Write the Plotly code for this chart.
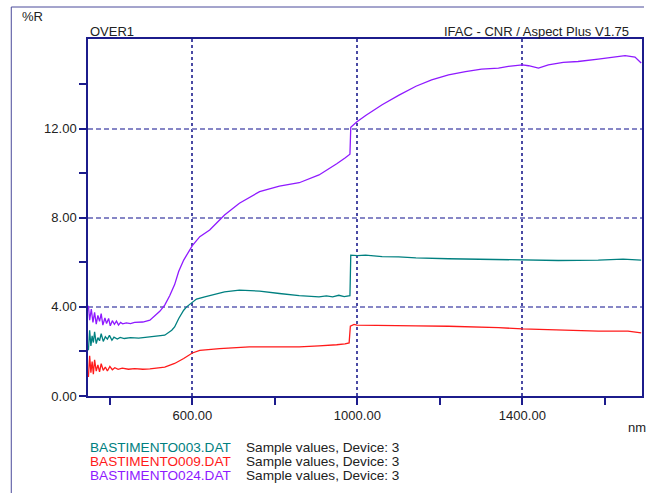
import plotly.graph_objects as go

# Reflectance spectra (%R vs wavelength in nm)
wl_003 = [348, 351, 354, 357, 360, 363, 367, 371, 375, 379, 384, 389, 394, 399, 405, 410,
          418, 425, 435, 450, 470, 497, 520, 533, 550, 557, 567, 579, 586, 600, 610, 630,
          678, 714, 763, 811, 859, 907, 925, 940, 955, 968, 982, 984, 1000,
          1020, 1060, 1100, 1142, 1221, 1318, 1342, 1400, 1487, 1584, 1644, 1688]
r_003 = [2.05, 2.95, 2.25, 2.70, 2.40, 2.88, 2.35, 2.62, 2.48, 2.80, 2.45, 2.66, 2.55, 2.72, 2.50, 2.64,
         2.56, 2.63, 2.58, 2.62, 2.60, 2.65, 2.68, 2.73, 2.95, 3.10, 3.48, 3.85, 4.00, 4.22, 4.35, 4.45,
         4.67, 4.75, 4.71, 4.60, 4.50, 4.45, 4.49, 4.45, 4.52, 4.46, 4.50, 6.32, 6.30,
         6.32, 6.25, 6.24, 6.20, 6.16, 6.13, 6.11, 6.08, 6.08, 6.10, 6.14, 6.10]

wl_009 = [348, 351, 354, 357, 360, 363, 367, 371, 375, 379, 384, 389, 394, 400, 406, 412,
          420, 430, 445, 460, 480, 497, 533, 557, 579, 600, 618, 666, 738, 811, 859, 907,
          930, 950, 970, 980, 983, 992, 999, 1060, 1142, 1221, 1318, 1342,
          1400, 1487, 1584, 1656, 1688]
r_009 = [0.85, 1.80, 1.05, 1.55, 0.98, 1.62, 1.12, 1.40, 1.08, 1.45, 1.15, 1.30, 1.12, 1.33, 1.18, 1.27,
         1.20, 1.25, 1.20, 1.23, 1.20, 1.22, 1.30, 1.46, 1.68, 1.93, 2.05, 2.13, 2.20, 2.20, 2.20, 2.25,
         2.27, 2.30, 2.34, 2.38, 3.13, 3.21, 3.18, 3.18, 3.15, 3.13, 3.10, 3.07,
         3.01, 2.95, 2.91, 2.91, 2.83]

wl_024 = [348, 351, 355, 359, 363, 367, 371, 375, 379, 383, 388, 392, 397, 401, 406, 411,
          416, 421, 426, 431, 440, 450, 460, 470, 480, 497, 521, 533, 545, 557, 567, 579,
          593, 600, 618, 642, 666, 678, 714, 763, 811, 859, 907, 930, 950, 970, 982, 984,
          999, 1021, 1060, 1101, 1142, 1180, 1221, 1262, 1301, 1342, 1366,
          1400, 1415, 1439, 1463, 1499, 1535, 1584, 1632, 1649, 1673, 1688]
r_024 = [4.05, 3.40, 3.90, 3.30, 3.75, 3.22, 3.62, 3.35, 3.70, 3.18, 3.50, 3.25, 3.48, 3.15, 3.38, 3.22,
         3.36, 3.18, 3.30, 3.24, 3.28, 3.25, 3.30, 3.30, 3.32, 3.40, 3.80, 4.08, 4.50, 5.00, 5.60, 6.10,
         6.50, 6.75, 7.15, 7.45, 7.90, 8.12, 8.65, 9.17, 9.42, 9.57, 9.92, 10.18, 10.42, 10.68, 10.85, 12.06,
         12.31, 12.60, 13.07, 13.50, 13.90, 14.19, 14.41, 14.56, 14.67, 14.71, 14.79,
         14.86, 14.82, 14.71, 14.86, 14.97, 15.01, 15.12, 15.21, 15.27, 15.21, 14.94]

series = [
    ("BASTIMENTO003.DAT", wl_003, r_003, "#008080"),
    ("BASTIMENTO009.DAT", wl_009, r_009, "#ff1a1a"),
    ("BASTIMENTO024.DAT", wl_024, r_024, "#8f1aff"),
]

x_major = [600, 1000, 1400]
x_minor = [400, 800, 1200, 1600]
y_major = [0, 4, 8, 12]
y_minor = [2, 6, 10, 14]

NAVY = "#1c1c8c"
FONT = "Liberation Sans, Arial, sans-serif"

W, H = 646, 493
L, R, T, B = 88, 2, 39, 97
PW, PH = W - L - R, H - T - B


def px(x):
    return (x - L) / PW


def py(y):
    return (H - B - y) / PH


fig = go.Figure()
for name, wl, r, col in series:
    fig.add_trace(go.Scatter(x=wl, y=r, mode="lines", name=name,
                             line=dict(color=col, width=1.3), showlegend=False))

fig.update_xaxes(
    range=[347, 1690], tickmode="array", tickvals=x_major,
    ticktext=[f"{v:.2f}" for v in x_major],
    ticks="outside", ticklen=7, tickcolor=NAVY, tickwidth=1.5,
    showline=True, linecolor=NAVY, linewidth=1.5, mirror=True,
    showgrid=True, gridcolor="#4a4aa4", griddash="3px,3px", gridwidth=1.5,
    zeroline=False,
    minor=dict(tickmode="array", tickvals=x_minor, ticks="outside", ticklen=7,
               tickcolor=NAVY, tickwidth=1.5, showgrid=False),
    tickfont=dict(family=FONT, size=13, color="#222"),
)
fig.update_yaxes(
    range=[0, 16.02], tickmode="array", tickvals=y_major,
    ticktext=[f"{v:.2f}" for v in y_major],
    ticks="outside", ticklen=7, tickcolor=NAVY, tickwidth=1.5,
    showline=True, linecolor=NAVY, linewidth=1.5, mirror=True,
    showgrid=True, gridcolor="#8686c6", griddash="5px,3px", gridwidth=1.5,
    zeroline=False,
    minor=dict(tickmode="array", tickvals=y_minor, ticks="outside", ticklen=7,
               tickcolor=NAVY, tickwidth=1.5, showgrid=False),
    tickfont=dict(family=FONT, size=13, color="#222"),
)

ann = []


def label(text, x, y, color="#222", xanchor="left", size=13):
    ann.append(dict(text=text, x=px(x), y=py(y), xref="paper", yref="paper",
                    xanchor=xanchor, yanchor="middle", showarrow=False,
                    font=dict(family=FONT, size=size, color=color)))


label("%R", 20, 16)
label("OVER1", 88, 31)
label("IFAC - CNR / Aspect Plus V1.75", 633, 31, xanchor="right")
label("nm", 628, 428)
for i, (name, _, _, col) in enumerate(series):
    yy = 447 + i * 14
    label(name, 88, yy, color=col, size=13.6)
    label("Sample values, Device: 3", 245, yy, size=13.6)

shapes = [
    dict(type="line", xref="paper", yref="paper", x0=px(11), x1=px(W), y0=py(7), y1=py(7),
         line=dict(color="#4a4a9a", width=1)),
    dict(type="line", xref="paper", yref="paper", x0=px(11), x1=px(11), y0=py(7), y1=py(H),
         line=dict(color="#4a4a9a", width=1)),
]

fig.update_layout(
    width=W, height=H, margin=dict(l=L, r=R, t=T, b=B),
    paper_bgcolor="white", plot_bgcolor="white",
    annotations=ann, shapes=shapes, showlegend=False,
)

fig.write_html("out.html")
